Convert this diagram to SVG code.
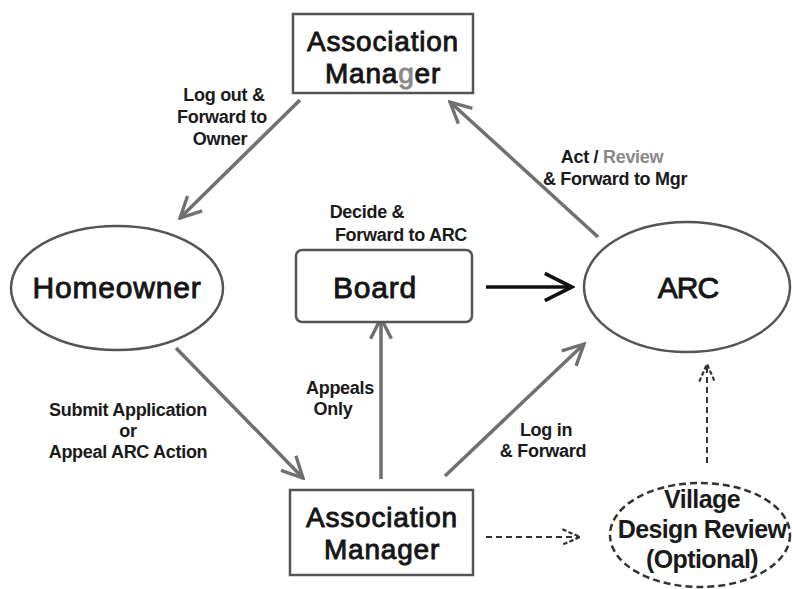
<svg xmlns="http://www.w3.org/2000/svg" width="792" height="589" viewBox="0 0 792 589">
<style>
.node{fill:#fff;stroke:#555;stroke-width:2.5}
.dash{fill:#fff;stroke:#333;stroke-width:2.5;stroke-dasharray:7 4}
.nt{font-family:"Liberation Sans",Arial,sans-serif;font-size:28px;fill:#151515;stroke:#151515;stroke-width:0.9;text-anchor:middle;letter-spacing:0.8px}
.vt{font-family:"Liberation Sans",Arial,sans-serif;font-size:25px;font-weight:bold;fill:#1a1a1a;text-anchor:middle;letter-spacing:-0.6px}
.lb{font-family:"Liberation Sans",Arial,sans-serif;font-size:18px;font-weight:bold;fill:#1a1a1a;text-anchor:middle;letter-spacing:-0.3px}
.ln{fill:none;stroke:#707070;stroke-width:3.5}
.dl{fill:none;stroke:#333;stroke-width:2;stroke-dasharray:6 4}
</style>
<defs>
<marker id="ah" viewBox="0 0 20 20" refX="18" refY="10" markerWidth="26" markerHeight="26" markerUnits="userSpaceOnUse" orient="auto">
<path d="M2,2 L18,10 L2,18" fill="none" stroke="#707070" stroke-width="2.6"/>
</marker>
<marker id="ahb" viewBox="0 0 20 20" refX="18" refY="10" markerWidth="34" markerHeight="34" markerUnits="userSpaceOnUse" orient="auto">
<path d="M2,2 L18,10 L2,18" fill="none" stroke="#111" stroke-width="2.2"/>
</marker>
<marker id="ahd" viewBox="0 0 20 20" refX="18" refY="10" markerWidth="22" markerHeight="22" markerUnits="userSpaceOnUse" orient="auto">
<path d="M2,3 L18,10 L2,17" fill="none" stroke="#333" stroke-width="2" stroke-dasharray="4 2"/>
</marker>
</defs>

<g id="connectors">
<line class="ln" x1="300" y1="100" x2="180" y2="218" marker-end="url(#ah)"/>
<line class="ln" x1="598" y1="237" x2="450" y2="102" marker-end="url(#ah)"/>
<line x1="486" y1="287" x2="572" y2="287" stroke="#111" stroke-width="3.5" marker-end="url(#ahb)"/>
<line class="ln" x1="176" y1="348" x2="303" y2="478" marker-end="url(#ah)"/>
<line class="ln" x1="381" y1="479" x2="381" y2="318" marker-end="url(#ah)"/>
<line class="ln" x1="445" y1="476" x2="584" y2="344" marker-end="url(#ah)"/>
<line class="dl" x1="486" y1="537" x2="580" y2="537" marker-end="url(#ahd)"/>
<line class="dl" x1="707" y1="463" x2="707" y2="364" marker-end="url(#ahd)"/>
</g>

<g id="assoc-manager-top">
<rect class="node" x="293" y="14" width="180" height="79"/>
<text class="nt" x="383" y="51">Association</text>
<text class="nt" x="383" y="83">Mana<tspan fill="#888" stroke="#888">g</tspan>er</text>
</g>

<g id="homeowner">
<ellipse class="node" cx="117" cy="288" rx="106" ry="62"/>
<text class="nt" x="117" y="298" style="font-size:30px">Homeowner</text>
</g>

<g id="board">
<rect class="node" x="296" y="250" width="176" height="72" rx="6"/>
<text class="nt" x="375" y="298" style="font-size:30px">Board</text>
</g>

<g id="arc">
<ellipse class="node" cx="687" cy="287" rx="103" ry="65"/>
<text class="nt" x="688" y="298" style="font-size:30px;letter-spacing:-1px">ARC</text>
</g>

<g id="assoc-manager-bottom">
<rect class="node" x="290" y="490" width="183" height="85"/>
<text class="nt" x="382" y="527">Association</text>
<text class="nt" x="382" y="559">Manager</text>
</g>

<g id="village">
<ellipse class="dash" cx="700" cy="535" rx="90" ry="52"/>
<text class="vt" x="702" y="508">Village</text>
<text class="vt" x="702" y="538">Design Review</text>
<text class="vt" x="702" y="568">(Optional)</text>
</g>

<g id="labels">
<text class="lb" x="224" y="101">Log out &amp;</text>
<text class="lb" x="222" y="123">Forward to</text>
<text class="lb" x="220" y="145">Owner</text>
<text class="lb" x="612" y="163">Act / <tspan fill="#888">Review</tspan></text>
<text class="lb" x="615" y="185">&amp; Forward to Mgr</text>
<text class="lb" x="367" y="218">Decide &amp;</text>
<text class="lb" x="401" y="241">Forward to ARC</text>
<text class="lb" x="128" y="416">Submit Application</text>
<text class="lb" x="128" y="437">or</text>
<text class="lb" x="128" y="458">Appeal ARC Action</text>
<text class="lb" x="340" y="394">Appeals</text>
<text class="lb" x="333" y="415">Only</text>
<text class="lb" x="546" y="436">Log in</text>
<text class="lb" x="543" y="457">&amp; Forward</text>
</g>
</svg>
